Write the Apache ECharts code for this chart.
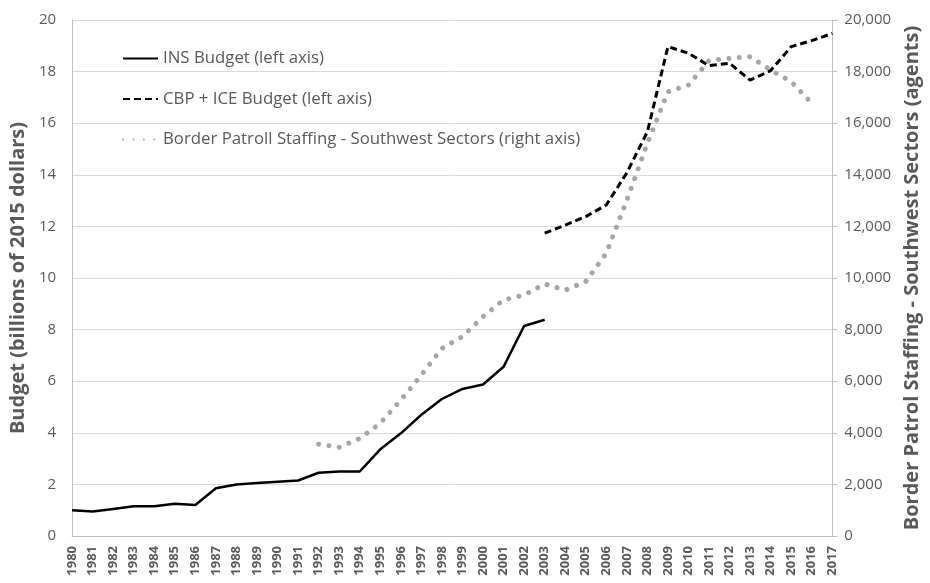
<!DOCTYPE html>
<html>
<head>
<meta charset="utf-8">
<script src="https://cdn.jsdelivr.net/npm/echarts@6/dist/echarts.min.js"></script>
<style>html,body{margin:0;padding:0;background:#fff}#c{width:930px;height:583px}</style>
</head>
<body>
<div id="c"></div>
<script>
var years = [];
for (var y = 1980; y <= 2017; y++) years.push(String(y));

var insBudget = [1.0, 0.95, 1.05, 1.15, 1.15, 1.25, 1.2, 1.85, 2.0, 2.05, 2.1, 2.15, 2.45, 2.5, 2.5, 3.36, 3.98, 4.7, 5.31, 5.7, 5.87, 6.56, 8.14, 8.38,
  null, null, null, null, null, null, null, null, null, null, null, null, null, null];

var cbpIceBudget = [null, null, null, null, null, null, null, null, null, null, null, null, null, null, null, null, null, null, null, null, null, null, null,
  11.74, 12.05, 12.38, 12.83, 14.08, 15.67, 18.97, 18.71, 18.23, 18.32, 17.67, 18.04, 18.97, 19.2, 19.48];

var borderStaffing = [null, null, null, null, null, null, null, null, null, null, null, null,
  3560, 3440, 3780, 4370, 5270, 6240, 7270, 7730, 8500, 9150, 9340, 9770, 9530, 9860, 10960, 13020, 15220, 17220, 17480, 18430, 18510, 18580, 18060, 17610, 16770, null];

var leftTicks = {min: 0, max: 20, interval: 2};
var rightTicks = {min: 0, max: 20000, interval: 2000};

var FONT = 'Open Sans';
var GRAY = '#595959';

var chart = echarts.init(document.getElementById('c'));
chart.setOption({
  animation: false,
  textStyle: {fontFamily: FONT},
  grid: {left: 68, right: 92, top: 20, bottom: 47, containLabel: false},
  legend: {
    orient: 'vertical', left: 122, top: 50, padding: 0,
    itemWidth: 35, itemHeight: 16, itemGap: 23.5,
    itemStyle: {color: 'rgba(0,0,0,0)', borderWidth: 0, opacity: 0},
    textStyle: {color: GRAY, fontSize: 16.8, fontFamily: FONT},
    data: ['INS Budget (left axis)', 'CBP + ICE Budget (left axis)', 'Border Patroll Staffing - Southwest Sectors (right axis)']
  },
  xAxis: {
    type: 'category', data: years, boundaryGap: false,
    axisLine: {lineStyle: {color: '#bfbfbf', width: 1}},
    axisTick: {show: false},
    axisLabel: {rotate: 90, interval: 0, color: GRAY, fontSize: 13, fontWeight: 'bold', fontFamily: FONT, margin: 10},
    splitLine: {show: false}
  },
  yAxis: [{
    type: 'value', min: leftTicks.min, max: leftTicks.max, interval: leftTicks.interval,
    name: 'Budget (billions of 2015 dollars)', nameLocation: 'middle', nameGap: 42,
    nameTextStyle: {color: GRAY, fontSize: 20, fontWeight: 'bold', fontFamily: FONT},
    axisLine: {show: true, lineStyle: {color: '#bfbfbf', width: 1}},
    axisTick: {show: false},
    axisLabel: {color: GRAY, fontSize: 15, fontFamily: FONT, margin: 16},
    splitLine: {lineStyle: {color: '#d9d9d9', width: 1}}
  }, {
    type: 'value', position: 'right', min: rightTicks.min, max: rightTicks.max, interval: rightTicks.interval,
    name: 'Border Patrol Staffing - Southwest Sectors (agents)', nameLocation: 'middle', nameGap: 66,
    nameRotate: 90,
    nameTextStyle: {color: GRAY, fontSize: 20, fontWeight: 'bold', fontFamily: FONT},
    axisLine: {show: true, lineStyle: {color: '#bfbfbf', width: 1}},
    axisTick: {show: true, length: 5, lineStyle: {color: '#bfbfbf'}},
    axisLabel: {color: GRAY, fontSize: 15, fontFamily: FONT, margin: 12,
      formatter: function (v) { return v.toLocaleString('en-US'); }},
    splitLine: {show: false}
  }],
  series: [{
    name: 'INS Budget (left axis)', type: 'line', yAxisIndex: 0, data: insBudget,
    symbol: 'none', connectNulls: false,
    lineStyle: {color: '#000', width: 2.5}, itemStyle: {color: '#000'}
  }, {
    name: 'CBP + ICE Budget (left axis)', type: 'line', yAxisIndex: 0, data: cbpIceBudget,
    symbol: 'none', connectNulls: false,
    lineStyle: {color: '#000', width: 3, type: [7, 4]}, itemStyle: {color: '#000'}
  }, {
    name: 'Border Patroll Staffing - Southwest Sectors (right axis)', type: 'line', yAxisIndex: 1, data: borderStaffing,
    symbol: 'none', connectNulls: false,
    lineStyle: {color: '#a6a6a6', width: 5, type: [0.01, 10.4], cap: 'round'}, itemStyle: {color: '#a6a6a6'}
  }]
});
</script>
</body>
</html>
